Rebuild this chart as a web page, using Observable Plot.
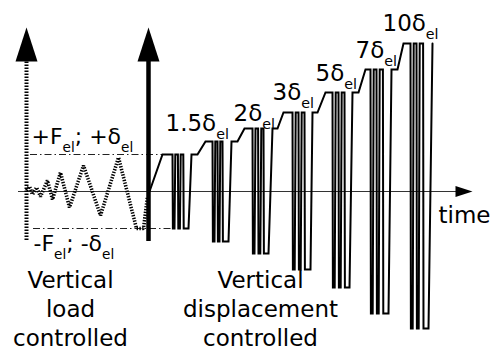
<!DOCTYPE html>
<html><head><meta charset="utf-8">
<script src="https://cdn.jsdelivr.net/npm/d3@7"></script>
<script src="https://cdn.jsdelivr.net/npm/@observablehq/plot@0.6"></script>
<style>html,body{margin:0;padding:0;background:#fff}#chart svg{display:block}</style>
</head><body><div id="chart"></div>
<script>
// Schematic loading protocol: time (arbitrary units) vs. load / displacement (arbitrary units, δ_el ≈ 37)
const elasticLevel = 37;

// load-controlled phase (dotted)
const loadTime  = [-122, -119, -116, -112, -108, -101, -96, -88, -79, -65, -48, -30, -12, -5, -1];
const loadValue = [1, 5, -3, 4, -5, 11, -8, 19, -16, 26, -24, 34, -37, -37, -5];

// displacement-controlled phase (solid)
const dispTime = [
  1, 14, 24, 24.4, 26, 26.8, 29.4, 29.8, 31.4, 32.2, 34.8, 35.2, 40, 43, 49,
  57, 64, 64.4, 66, 66.8, 69, 69.4, 71, 71.8, 74, 74.4, 80, 83, 89,
  96, 104, 104.4, 106, 107, 109.6, 110, 111.8, 112.8, 115, 115.4, 120, 124, 129,
  135, 144, 144.4, 146.2, 147.2, 150, 150.4, 152.2, 153.2, 156, 156.4, 162, 164, 169,
  177, 184, 184.4, 186.2, 187.2, 190, 190.4, 192.2, 193.2, 196, 196.4, 201, 204, 210,
  217, 222, 222.4, 224.2, 225.2, 228, 228.4, 230.2, 231.2, 234.4, 234.8, 240, 243, 249,
  255, 262, 262.4, 264.2, 265.2, 268, 268.4, 270.2, 271.2, 274.6, 275, 280, 284
];
const dispValue = [
  0, 37, 37, -37, -37, 37, 37, -37, -37, 37, 37, -37, -37, 37, 37,
  50, 50, -50, -50, 50, 50, -50, -50, 50, 50, -50, -50, 50, 50,
  63, 63, -62, -62, 63, 63, -62, -62, 63, 63, -62, -62, 63, 63,
  79, 79, -78, -78, 79, 79, -78, -78, 79, 79, -78, -78, 79, 79,
  99, 99, -96, -96, 99, 99, -96, -96, 99, 99, -96, -96, 99, 99,
  122, 122, -122, -122, 122, 122, -122, -122, 122, 122, -122, -122, 122, 122,
  148, 148, -137, -137, 148, 148, -137, -137, 148, 148, -137, -137, 148
];

// texts
const levelLabels = ["+F_{el}; +δ_{el}", "-F_{el}; -δ_{el}"];
const stageLabels = ["1.5δ_{el}", "2δ_{el}", "3δ_{el}", "5δ_{el}", "7δ_{el}", "10δ_{el}"];
const phaseLabels = ["Vertical\nload\ncontrolled", "Vertical\ndisplacement\ncontrolled"];
const timeLabel = "time";

// annotation anchors (data units)
const stageLabelAt = [[17, 61], [85, 71], [124, 92], [167, 111], [207, 134], [234, 161]];
const levelLabelAt = [[-117, 48], [-115, -59]];
const phaseLabelAt = [[-78, -154], [112, -154]];

const loadData = loadTime.map((t, i) => ({t, v: loadValue[i]}));
const dispData = dispTime.map((t, i) => ({t, v: dispValue[i]}));

const upHead = {draw(ctx) { ctx.moveTo(0, -17); ctx.lineTo(11, 17); ctx.lineTo(-11, 17); ctx.closePath(); }};
const rightHead = {draw(ctx) { ctx.moveTo(8.5, 0); ctx.lineTo(-8.5, -5.5); ctx.lineTo(-8.5, 5.5); ctx.closePath(); }};

const font = "DejaVu Sans";
const chart = Plot.plot({
  width: 497, height: 352, margin: 0,
  x: {domain: [-148, 349], axis: null},
  y: {domain: [-161, 191], axis: null},
  style: {fontFamily: font, background: "#fff"},
  marks: [
    // elastic level reference lines
    Plot.ruleY([elasticLevel], {x1: -118, x2: dispTime[1], stroke: "#222", strokeWidth: 1, strokeDasharray: "7,3,1.5,3"}),
    Plot.ruleY([-elasticLevel], {x1: -115, x2: dispTime[2], stroke: "#222", strokeWidth: 1, strokeDasharray: "7,3,1.5,3"}),
    // time axis
    Plot.ruleY([0], {x1: -130, x2: 309, stroke: "#333", strokeWidth: 1.2}),
    Plot.dot([{t: 315.5, v: 0}], {x: "t", y: "v", symbol: rightHead, fill: "black", stroke: null}),
    // vertical axes
    Plot.ruleX([loadTime[0]], {y1: -49, y2: 130, stroke: "black", strokeWidth: 4, strokeDasharray: "1.5,1.5", strokeLinecap: "butt"}),
    Plot.ruleX([0], {y1: -50, y2: 131, stroke: "black", strokeWidth: 4.5}),
    Plot.dot([{t: loadTime[0], v: 147}, {t: 0, v: 147}], {x: "t", y: "v", symbol: upHead, fill: "black", stroke: null}),
    // load-controlled curve
    Plot.line(loadData, {x: "t", y: "v", stroke: "black", strokeWidth: 3.6, strokeDasharray: "1.4,1.4", strokeLinecap: "butt", strokeLinejoin: "miter"}),
    // displacement-controlled curve
    Plot.line(dispData, {x: "t", y: "v", stroke: "black", strokeWidth: 2, strokeLinejoin: "miter", strokeMiterlimit: 2}),
    // labels
    Plot.text(levelLabels, {x: (d, i) => levelLabelAt[i][0], y: (d, i) => levelLabelAt[i][1], text: d => d,
      textAnchor: "start", lineAnchor: "bottom", fontSize: 22, fill: "black"}),
    Plot.text(stageLabels, {x: (d, i) => stageLabelAt[i][0], y: (d, i) => stageLabelAt[i][1], text: d => d,
      textAnchor: "start", lineAnchor: "bottom", fontSize: 23, fill: "black"}),
    Plot.text(phaseLabels, {x: (d, i) => phaseLabelAt[i][0], y: (d, i) => phaseLabelAt[i][1], text: d => d,
      textAnchor: "middle", lineAnchor: "bottom", lineHeight: 1.24, fontSize: 23, fill: "black"}),
    Plot.text([timeLabel], {x: 290, y: -31, text: d => d, textAnchor: "start", lineAnchor: "bottom", fontSize: 23, fill: "black"})
  ]
});
document.getElementById("chart").appendChild(chart);

// render "_{...}" as subscripts
const ns = "http://www.w3.org/2000/svg";
chart.querySelectorAll("text").forEach(text => {
  const tspans = text.querySelectorAll("tspan");
  const targets = tspans.length ? Array.from(tspans) : [text];
  targets.forEach(node => {
    const s = node.textContent;
    if (!s.includes("_{")) return;
    const fs = parseFloat(getComputedStyle(text).fontSize) || 22;
    const shift = fs * 0.38;
    node.textContent = "";
    s.split(/(_\{[^}]*\})/).filter(p => p).forEach(p => {
      const ts = document.createElementNS(ns, "tspan");
      if (p.startsWith("_{")) {
        ts.textContent = p.slice(2, -1);
        ts.setAttribute("font-size", (fs * 0.62) + "px");
        ts.setAttribute("dy", shift);
        ts.dataset.sub = "1";
      } else {
        ts.textContent = p;
        const prev = node.lastChild;
        if (prev && prev.dataset && prev.dataset.sub) ts.setAttribute("dy", -shift);
      }
      node.appendChild(ts);
    });
  });
});
</script>
</body></html>
